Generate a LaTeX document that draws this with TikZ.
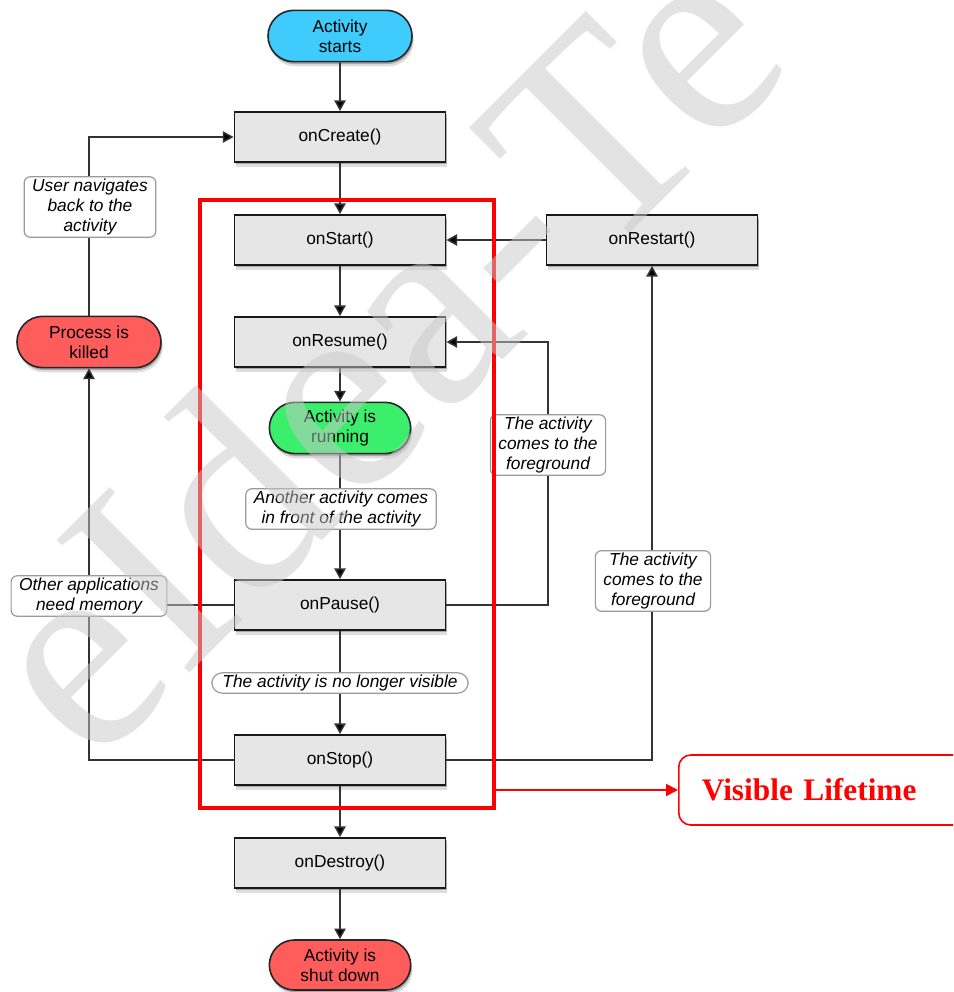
\documentclass[tikz,border=0pt]{standalone}
\usepackage{fontspec}
\setmainfont{Liberation Sans}
\newfontfamily\lifefont{Liberation Serif}
\newfontfamily\markfont{Liberation Serif}
\usetikzlibrary{shapes.misc,arrows.meta,shadows,calc}

\definecolor{boxgray}{HTML}{E6E6E6}
\definecolor{startblue}{HTML}{3FCBFB}
\definecolor{rungreen}{HTML}{3BEE6C}
\definecolor{stopred}{HTML}{FF5C5C}
\definecolor{linegray}{HTML}{333333}
\definecolor{noteborder}{HTML}{9A9A9A}
\definecolor{framered}{HTML}{FF0000}
\definecolor{markgray}{HTML}{C9C9C9}

\tikzset{
  softshadow/.style={
    drop shadow={shadow xshift=0.8pt, shadow yshift=-1.8pt, opacity=0.24, fill=black},
    drop shadow={shadow xshift=1.4pt, shadow yshift=-3.6pt, opacity=0.13, fill=black}},
  stepbox/.style={draw=black!90, line width=1.4pt, fill=boxgray,
    minimum width=158.25pt, minimum height=37.5pt, inner sep=0pt,
    font=\fontsize{13}{15}\selectfont, softshadow},
  pill/.style={rounded rectangle, draw=black!85, line width=1.2pt,
    minimum width=108pt, minimum height=38.5pt, inner sep=0pt, align=center,
    font=\fontsize{13}{15}\selectfont, softshadow},
  note/.style={draw=noteborder, fill=white, rounded corners=4.5pt, line width=0.9pt,
    align=center, font=\fontsize{13}{15}\selectfont\itshape,
    inner xsep=6pt, inner ysep=1.6pt},
  flow/.style={draw=linegray, line width=1.15pt},
  arrow/.style={flow, -{Triangle[width=8.5pt,length=8pt,fill=black]}},
}

\begin{document}
\begin{tikzpicture}[x=0.75pt, y=-0.75pt]
\clip (0,0) rectangle (953,992);
\fill[white] (0,0) rectangle (953,992);

% lifecycle states and callbacks
\node[pill, fill=startblue] (start) at (340,36) {Activity\\starts};
\node[stepbox] (create)  at (340,137) {onCreate()};
\node[stepbox] (onstart) at (340,240) {onStart()};
\node[stepbox] (restart) at (652,240) {onRestart()};
\node[stepbox] (resume)  at (340,342) {onResume()};
\node[pill, fill=rungreen, minimum width=106pt] (running) at (340,428) {Activity is\\running};
\node[stepbox] (pause)   at (340,605) {onPause()};
\node[stepbox] (stop)    at (340,760) {onStop()};
\node[stepbox] (destroy) at (340,863) {onDestroy()};
\node[pill, fill=stopred, minimum width=106pt, minimum height=37.5pt] (shutdown) at (340,965) {Activity is\\shut down};
\node[pill, fill=stopred] (killed) at (89,342) {Process is\\killed};

% transitions
\draw[arrow] (start) -- (create);
\draw[arrow] (create) -- (onstart);
\draw[arrow] (onstart) -- (resume);
\draw[arrow] (resume) -- (running);
\draw[arrow] (running) -- (pause);
\draw[arrow] (pause) -- (stop);
\draw[arrow] (stop) -- (destroy);
\draw[arrow] (destroy) -- (shutdown);
\draw[arrow] (restart.west) -- (onstart.east);
\draw[arrow] (stop.east) -| (restart.south);
\coordinate (fgx) at (548,445);
\draw[arrow] (pause.east) -| (fgx) |- (resume.east);
\draw[arrow] (stop.west) -| (killed.south);
\draw[flow] (pause.west) -- (pause.west -| killed.south);
\draw[arrow] (killed.north) |- (create.west);

% transition conditions
\node[note] (nav)    at (90,207)  {User navigates\\back to the\\activity};
\node[note] (ahead)  at (341,509) {Another activity comes\\in front of the activity};
\node[note] (memory) at (89,596)  {Other applications\\need memory};
\node[note] (fg1)    at (fgx)     {The activity\\comes to the\\foreground};
\node[note, rounded corners=8pt, inner xsep=8pt] (hidden) at (340,683) {The activity is no longer visible};
\node[note] (fg2)    at (653,581) {The activity\\comes to the\\foreground};

% visible lifetime frame and its caption
\node[draw=framered, line width=3pt, minimum width=220.5pt, minimum height=456pt, inner sep=0pt] (visframe) at (347,504) {};
\node[draw=framered, line width=1.2pt, rounded corners=9pt, anchor=west,
      minimum height=52.5pt, inner xsep=17.25pt, text width=207pt, align=left,
      text=framered, font=\lifefont\bfseries\fontsize{23.5}{26}\selectfont] (lifetime) at (678,790) {Visible Lifetime};
\draw[framered, line width=1.5pt, -{Triangle[width=9pt,length=9pt]}] (visframe.east |- lifetime.west) -- (lifetime.west);

% watermark
\node[rotate=45, anchor=base west, inner sep=0pt, text=markgray, opacity=0.5,
      font=\markfont\fontsize{215}{215}\selectfont] (mark) at (92,771) {eIdea-Te};
\end{tikzpicture}
\end{document}
